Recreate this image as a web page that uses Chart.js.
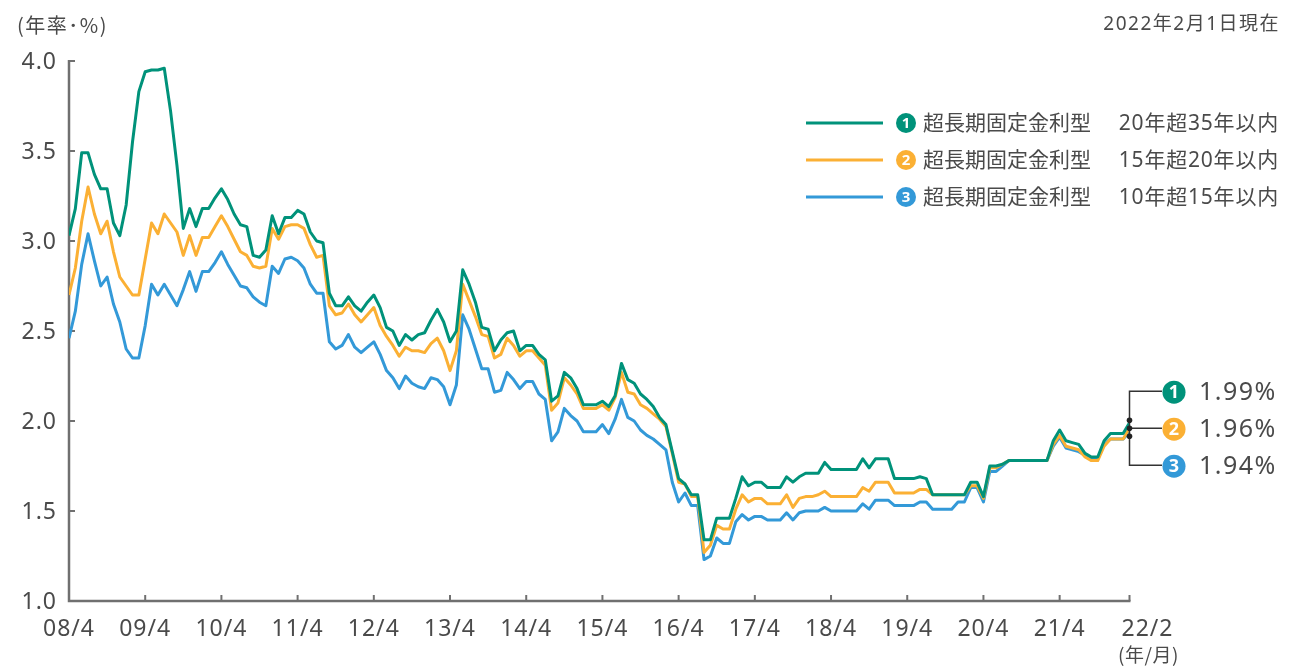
<!DOCTYPE html>
<html lang="ja">
<head>
<meta charset="utf-8">
<script src="https://cdn.jsdelivr.net/npm/chart.js@4/dist/chart.umd.min.js"></script>
<style>
  html, body { margin: 0; padding: 0; background: #fff; }
  #wrap { width: 1307px; height: 668px; }
</style>
</head>
<body>
<div id="wrap"><canvas id="chart" width="1307" height="668"></canvas></div>
<script>
// monthly rates, 08/4 .. 22/2 (one value per month)
const rate20to35 = [
  3.03, 3.18, 3.49, 3.49, 3.37, 3.29, 3.29, 3.10, 3.03, 3.20,
  3.55, 3.83, 3.94, 3.95, 3.95, 3.96, 3.72, 3.42, 3.07, 3.18,
  3.08, 3.18, 3.18, 3.24, 3.29, 3.23, 3.15, 3.09, 3.08, 2.92,
  2.91, 2.95, 3.14, 3.04, 3.13, 3.13, 3.17, 3.15, 3.05, 3.00,
  2.99, 2.71, 2.64, 2.64, 2.69, 2.64, 2.61, 2.66, 2.70, 2.63,
  2.52, 2.50, 2.42, 2.48, 2.45, 2.48, 2.49, 2.56, 2.62, 2.55,
  2.44, 2.50, 2.84, 2.76, 2.66, 2.52, 2.51, 2.39, 2.45, 2.49,
  2.50, 2.39, 2.42, 2.42, 2.37, 2.34, 2.11, 2.14, 2.27, 2.24,
  2.18, 2.09, 2.09, 2.09, 2.11, 2.08, 2.14, 2.32, 2.23, 2.21,
  2.15, 2.12, 2.08, 2.02, 1.98, 1.83, 1.68, 1.65, 1.59, 1.59,
  1.34, 1.34, 1.46, 1.46, 1.46, 1.57, 1.69, 1.64, 1.66, 1.66,
  1.63, 1.63, 1.63, 1.69, 1.66, 1.69, 1.71, 1.71, 1.71, 1.77,
  1.73, 1.73, 1.73, 1.73, 1.73, 1.79, 1.74, 1.79, 1.79, 1.79,
  1.68, 1.68, 1.68, 1.68, 1.69, 1.68, 1.59, 1.59, 1.59, 1.59,
  1.59, 1.59, 1.66, 1.66, 1.58, 1.75, 1.75, 1.76, 1.78, 1.78,
  1.78, 1.78, 1.78, 1.78, 1.78, 1.89, 1.95, 1.89, 1.88, 1.87,
  1.82, 1.80, 1.80, 1.89, 1.93, 1.93, 1.93, 1.99
];
const rate15to20 = [
  2.70, 2.85, 3.11, 3.30, 3.15, 3.04, 3.11, 2.94, 2.80, 2.75,
  2.70, 2.70, 2.90, 3.10, 3.04, 3.15, 3.10, 3.05, 2.92, 3.03,
  2.92, 3.02, 3.02, 3.08, 3.14, 3.08, 3.01, 2.94, 2.92, 2.86,
  2.85, 2.86, 3.07, 3.01, 3.08, 3.09, 3.09, 3.07, 2.98, 2.91,
  2.92, 2.64, 2.59, 2.60, 2.65, 2.59, 2.55, 2.59, 2.63, 2.53,
  2.47, 2.42, 2.36, 2.41, 2.39, 2.39, 2.38, 2.43, 2.46, 2.39,
  2.28, 2.39, 2.76, 2.67, 2.58, 2.48, 2.47, 2.35, 2.37, 2.46,
  2.42, 2.36, 2.39, 2.39, 2.35, 2.31, 2.06, 2.10, 2.24, 2.20,
  2.15, 2.07, 2.07, 2.07, 2.09, 2.06, 2.13, 2.27, 2.16, 2.15,
  2.09, 2.07, 2.04, 2.01, 1.97, 1.82, 1.66, 1.65, 1.58, 1.58,
  1.27, 1.31, 1.42, 1.40, 1.40, 1.51, 1.59, 1.55, 1.57, 1.57,
  1.54, 1.54, 1.54, 1.59, 1.52, 1.57, 1.58, 1.58, 1.59, 1.61,
  1.58, 1.58, 1.58, 1.58, 1.58, 1.63, 1.61, 1.66, 1.66, 1.66,
  1.60, 1.60, 1.60, 1.60, 1.62, 1.62, 1.59, 1.59, 1.59, 1.59,
  1.59, 1.59, 1.64, 1.64, 1.57, 1.74, 1.74, 1.76, 1.78, 1.78,
  1.78, 1.78, 1.78, 1.78, 1.78, 1.87, 1.92, 1.86, 1.85, 1.84,
  1.80, 1.78, 1.78, 1.86, 1.90, 1.90, 1.90, 1.96
];
const rate10to15 = [
  2.46, 2.61, 2.87, 3.04, 2.89, 2.75, 2.80, 2.65, 2.55, 2.40,
  2.35, 2.35, 2.53, 2.76, 2.70, 2.76, 2.70, 2.64, 2.73, 2.83,
  2.72, 2.83, 2.83, 2.88, 2.94, 2.87, 2.81, 2.75, 2.74, 2.69,
  2.66, 2.64, 2.86, 2.82, 2.90, 2.91, 2.89, 2.85, 2.76, 2.71,
  2.71, 2.44, 2.40, 2.42, 2.48, 2.41, 2.38, 2.41, 2.44, 2.37,
  2.28, 2.24, 2.18, 2.25, 2.21, 2.19, 2.18, 2.24, 2.23, 2.19,
  2.09, 2.20, 2.59, 2.51, 2.40, 2.29, 2.29, 2.16, 2.17, 2.27,
  2.23, 2.18, 2.22, 2.22, 2.15, 2.12, 1.89, 1.94, 2.07, 2.03,
  2.00, 1.94, 1.94, 1.94, 1.98, 1.93, 2.01, 2.12, 2.02, 2.00,
  1.95, 1.92, 1.90, 1.87, 1.84, 1.66, 1.55, 1.60, 1.53, 1.53,
  1.23, 1.25, 1.35, 1.32, 1.32, 1.44, 1.48, 1.45, 1.47, 1.47,
  1.45, 1.45, 1.45, 1.49, 1.45, 1.49, 1.50, 1.50, 1.50, 1.52,
  1.50, 1.50, 1.50, 1.50, 1.50, 1.54, 1.51, 1.56, 1.56, 1.56,
  1.53, 1.53, 1.53, 1.53, 1.55, 1.55, 1.51, 1.51, 1.51, 1.51,
  1.55, 1.55, 1.63, 1.63, 1.55, 1.72, 1.72, 1.75, 1.78, 1.78,
  1.78, 1.78, 1.78, 1.78, 1.78, 1.86, 1.91, 1.85, 1.84, 1.83,
  1.81, 1.79, 1.79, 1.87, 1.90, 1.90, 1.90, 1.94
];

const seriesNames = ['超長期固定金利型', '超長期固定金利型', '超長期固定金利型'];
const seriesTerms = ['20年超35年以内', '15年超20年以内', '10年超15年以内'];
const latestLabels = ['1.99%', '1.96%', '1.94%'];

const xTickPos = [0, 12, 24, 36, 48, 60, 72, 84, 96, 108, 120, 132, 144, 156, 167];
const xTickLabels = ['08/4', '09/4', '10/4', '11/4', '12/4', '13/4', '14/4', '15/4',
                     '16/4', '17/4', '18/4', '19/4', '20/4', '21/4', '22/2'];
const yTicks = [1.0, 1.5, 2.0, 2.5, 3.0, 3.5, 4.0];

const colors = ['#00927a', '#fbb034', '#3399d8'];
const textColor = '#4a4a4a';
const axisColor = '#707070';
const FONT = '"Noto Sans", "Noto Sans CJK JP", sans-serif';
const CJK = '"Noto Sans CJK JP", sans-serif';

const toPoints = arr => arr.map((v, i) => ({ x: i, y: v }));

function circled(ctx, cx, cy, r, color, num, size) {
    ctx.fillStyle = color;
    ctx.beginPath();
    ctx.arc(cx, cy, r, 0, Math.PI * 2);
    ctx.fill();
    ctx.fillStyle = '#fff';
    ctx.font = `bold ${size}px ${FONT}`;
    ctx.letterSpacing = '0px';
    ctx.textAlign = 'center';
    ctx.textBaseline = 'middle';
    ctx.fillText(num, cx, cy + 1);
}

// axes drawn under the lines
const axesPlugin = {
    id: 'axes',
    beforeDatasetsDraw(chart) {
        const { ctx, chartArea: a, scales: { x, y } } = chart;
        ctx.save();
        ctx.strokeStyle = axisColor;
        ctx.lineWidth = 2.5;
        ctx.beginPath();
        ctx.moveTo(a.left, a.top - 1);
        ctx.lineTo(a.left, a.bottom);
        ctx.lineTo(a.right + 1, a.bottom);
        ctx.stroke();

        ctx.lineWidth = 2;
        yTicks.forEach(v => {
            const py = y.getPixelForValue(v);
            ctx.beginPath();
            ctx.moveTo(a.left, py);
            ctx.lineTo(a.left + 6, py);
            ctx.stroke();
        });
        xTickPos.forEach(v => {
            const px = x.getPixelForValue(v);
            ctx.beginPath();
            ctx.moveTo(px, a.bottom);
            ctx.lineTo(px, a.bottom - 6);
            ctx.stroke();
        });

        ctx.fillStyle = textColor;
        ctx.font = `23px ${FONT}`;
        ctx.letterSpacing = '1px';
        ctx.textAlign = 'right';
        ctx.textBaseline = 'middle';
        yTicks.forEach(v => {
            ctx.fillText(v.toFixed(1), a.left - 12, y.getPixelForValue(v) + 1);
        });

        ctx.textAlign = 'center';
        ctx.textBaseline = 'alphabetic';
        xTickPos.forEach((v, k) => {
            let px = x.getPixelForValue(v);
            if (k === xTickPos.length - 1) px += 18;
            ctx.fillText(xTickLabels[k], px, 636);
        });
        ctx.restore();
    },
    afterDraw(chart) {
        const { ctx, chartArea: a, scales: { x, y } } = chart;
        ctx.save();
        ctx.fillStyle = textColor;
        ctx.textBaseline = 'middle';

        // header texts
        ctx.font = `20px ${CJK}`;
        ctx.letterSpacing = '1.5px';
        ctx.textAlign = 'left';
        ctx.fillText('(年率･%)', 17, 25);
        ctx.font = `19px ${FONT}`;
        ctx.letterSpacing = '1.5px';
        ctx.textAlign = 'right';
        ctx.fillText('2022年2月1日現在', 1280, 25);
        ctx.letterSpacing = '0.5px';
        ctx.font = `19px ${CJK}`;
        ctx.textAlign = 'center';
        ctx.fillText('(年/月)', x.getPixelForValue(167) + 19, 655);
        ctx.letterSpacing = '0px';

        // legend
        const legendY = [123, 160, 197];
        seriesNames.forEach((name, k) => {
            const ly = legendY[k];
            ctx.strokeStyle = colors[k];
            ctx.lineWidth = 3;
            ctx.beginPath();
            ctx.moveTo(806, ly);
            ctx.lineTo(883, ly);
            ctx.stroke();
            circled(ctx, 906, ly, 10, colors[k], String(k + 1), 15);
            ctx.fillStyle = textColor;
            ctx.font = `21px ${FONT}`;
            ctx.textBaseline = 'middle';
            ctx.textAlign = 'left';
            ctx.fillText(name, 923, ly + 1);
            ctx.letterSpacing = '0.8px';
            ctx.textAlign = 'right';
            ctx.fillText(seriesTerms[k], 1279, ly + 1);
            ctx.letterSpacing = '0px';
        });

        // latest values bracket
        const last = rate15to20.length - 1;
        const ex = x.getPixelForValue(last);
        const midY = y.getPixelForValue(rate15to20[last]);
        const rowsY = [midY - 37, midY, midY + 37];
        ctx.strokeStyle = '#333';
        ctx.lineWidth = 1.5;
        ctx.beginPath();
        ctx.moveTo(1162, rowsY[0]);
        ctx.lineTo(ex, rowsY[0]);
        ctx.lineTo(ex, rowsY[2]);
        ctx.lineTo(1162, rowsY[2]);
        ctx.moveTo(ex, rowsY[1]);
        ctx.lineTo(1162, rowsY[1]);
        ctx.stroke();
        ctx.fillStyle = '#222';
        [-8, 0, 8].forEach(d => {
            ctx.beginPath();
            ctx.arc(ex, midY + d, 2.8, 0, Math.PI * 2);
            ctx.fill();
        });
        latestLabels.forEach((t, k) => {
            circled(ctx, 1174, rowsY[k] + 1, 11.5, colors[k], String(k + 1), 18);
            ctx.fillStyle = textColor;
            ctx.font = `25px ${FONT}`;
            ctx.letterSpacing = '1.5px';
            ctx.textAlign = 'left';
            ctx.textBaseline = 'middle';
            ctx.fillText(t, 1199, rowsY[k] + 2);
            ctx.letterSpacing = '0px';
        });
        ctx.restore();
    }
};

new Chart(document.getElementById('chart'), {
    type: 'line',
    data: {
        datasets: [
            { label: seriesTerms[0], data: toPoints(rate20to35), borderColor: colors[0] },
            { label: seriesTerms[1], data: toPoints(rate15to20), borderColor: colors[1] },
            { label: seriesTerms[2], data: toPoints(rate10to15), borderColor: colors[2] }
        ]
    },
    options: {
        responsive: false,
        animation: false,
        events: [],
        layout: { padding: { left: 69, right: 177.5, top: 61, bottom: 67 } },
        elements: {
            line: { borderWidth: 3, tension: 0, borderJoinStyle: 'round', fill: false },
            point: { radius: 0 }
        },
        scales: {
            x: { type: 'linear', min: 0, max: 167, display: false },
            y: { type: 'linear', min: 1, max: 4, display: false }
        },
        plugins: {
            legend: { display: false },
            tooltip: { enabled: false }
        }
    },
    plugins: [axesPlugin]
});
</script>
</body>
</html>
